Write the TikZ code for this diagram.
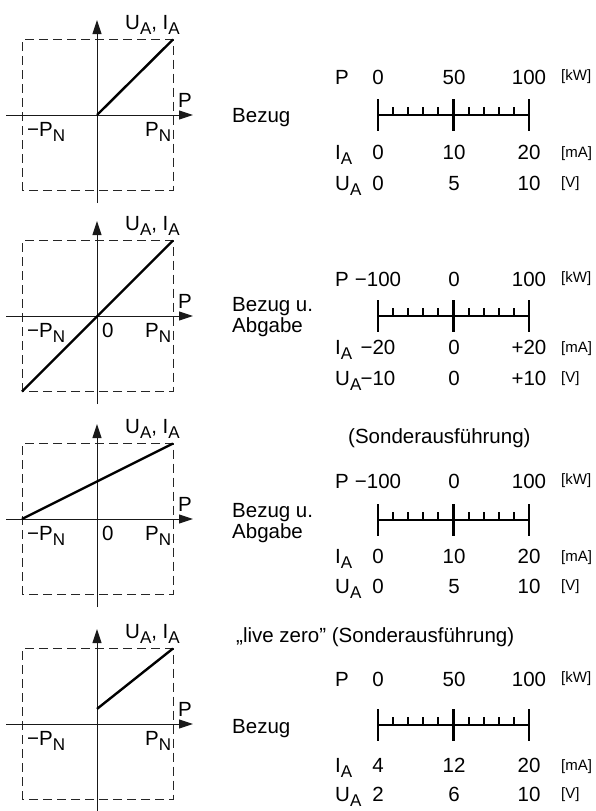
\documentclass[tikz,border=0pt]{standalone}
\usepackage{fontspec}
\setmainfont{Liberation Sans}
\usetikzlibrary{arrows.meta}
\newcommand{\sbs}[1]{\raisebox{-0.28em}{\fontsize{17}{17}\selectfont #1}}
\tikzset{
  txt/.style={font=\fontsize{20.5}{18}\selectfont, inner sep=0pt, anchor=base},
  txtw/.style={txt, anchor=base west},
  unit/.style={font=\fontsize{15}{15}\selectfont, inner sep=0pt, anchor=base west},
  axisline/.style={line width=1pt, draw=black!90, -{Triangle[length=14pt,width=9pt]}},
  dbox/.style={line width=0.9pt, draw=black!85, dash pattern=on 9pt off 5pt},
  curve/.style={line width=2.4pt},
  scl/.style={line width=2.4pt},
  smalltick/.style={line width=2pt},
}
\newcommand{\axesbox}[2]{%
  \coordinate (o#1) at (97,#2);
  \coordinate (yb#1) at (97,#2+88);
  \coordinate (yt#1) at (97,#2-95);
  \coordinate (xl#1) at (6,#2);
  \coordinate (xr#1) at (193,#2);
  \coordinate (bl#1) at (22,#2+75.5);
  \coordinate (tr#1) at (173,#2-75.5);
  \draw[dbox] (bl#1) rectangle (tr#1);
  \draw[axisline] (yb#1) -- (yt#1);
  \draw[axisline] (xl#1) -- (xr#1);
  \node[txtw] (ua#1) at (125,#2-86) {U\sbs{A}, I\sbs{A}};
  \node[txtw] (pp#1) at (178,#2-8) {P};
  \node[txtw] (mpn#1) at (27,#2+21) {−P\sbs{N}};
  \node[txtw] (ppn#1) at (145,#2+21) {P\sbs{N}};
}
\newcommand{\scalebar}[2]{%
  \coordinate (sa#1) at (378,#2);
  \coordinate (sb#1) at (529,#2);
  \draw[scl] (sa#1) -- (sb#1);
  \foreach \i in {0,5,10} \draw[scl] (378+15.1*\i,#2-16) -- (378+15.1*\i,#2+16);
  \foreach \i in {1,2,3,4,6,7,8,9} \draw[smalltick] (378+15.1*\i,#2) -- (378+15.1*\i,#2-8);
}
% #1 id, #2 baseline, #3 label, #4 #5 #6 values, #7 unit, #8 unit baseline
\newcommand{\valrow}[8]{%
  \node[txtw] (l#1) at (335,#2) {#3};
  \node[txt] (va#1) at (378,#2) {#4};
  \node[txt] (vb#1) at (454,#2) {#5};
  \node[txt] (vc#1) at (529,#2) {#6};
  \node[unit] (un#1) at (561,#8) {#7};
}
\begin{document}
\begin{tikzpicture}[x=1pt,y=-1pt]
\useasboundingbox (0,0) rectangle (596,811);
% ---------- panel 1 ----------
\axesbox{1}{115}
\draw[curve] (o1) -- (tr1);
\scalebar{1}{115}
\node[txtw] (bz1) at (232,122) {Bezug};
\valrow{1p}{84}{P}{0}{50}{100}{[kW]}{80}
\valrow{1i}{159}{I\sbs{A}}{0}{10}{20}{[mA]}{157}
\valrow{1u}{190}{U\sbs{A}}{0}{5}{10}{[V]}{187}
% ---------- panel 2 ----------
\axesbox{2}{316}
\node[txtw] (z2) at (102,337) {0};
\draw[curve] (bl2) -- (tr2);
\scalebar{2}{316}
\node[txtw, align=left] (bz2) at (232,332) {Bezug u.\\Abgabe};
\valrow{2p}{286}{P}{−100}{0}{100}{[kW]}{282}
\valrow{2i}{354}{I\sbs{A}}{−20}{0}{+20}{[mA]}{352}
\valrow{2u}{385}{U\sbs{A}}{−10}{0}{+10}{[V]}{382}
% ---------- panel 3 ----------
\axesbox{3}{519}
\node[txtw] (z3) at (102,540) {0};
\coordinate (c3) at (22,519);
\draw[curve] (c3) -- (tr3);
\scalebar{3}{520}
\node[txtw] (so3) at (348,443) {(Sonderausführung)};
\node[txtw, align=left] (bz3) at (232,538) {Bezug u.\\Abgabe};
\valrow{3p}{488}{P}{−100}{0}{100}{[kW]}{484}
\valrow{3i}{563}{I\sbs{A}}{0}{10}{20}{[mA]}{561}
\valrow{3u}{593}{U\sbs{A}}{0}{5}{10}{[V]}{590}
% ---------- panel 4 ----------
\axesbox{4}{724}
\coordinate (c4) at (97,708.9);
\draw[curve] (c4) -- (tr4);
\scalebar{4}{725}
\node[txtw] (lz4) at (236,642) {„live zero” (Sonderausführung)};
\node[txtw] (bz4) at (232,733) {Bezug};
\valrow{4p}{686}{P}{0}{50}{100}{[kW]}{682}
\valrow{4i}{772}{I\sbs{A}}{4}{12}{20}{[mA]}{770}
\valrow{4u}{801}{U\sbs{A}}{2}{6}{10}{[V]}{798}
\end{tikzpicture}
\end{document}
